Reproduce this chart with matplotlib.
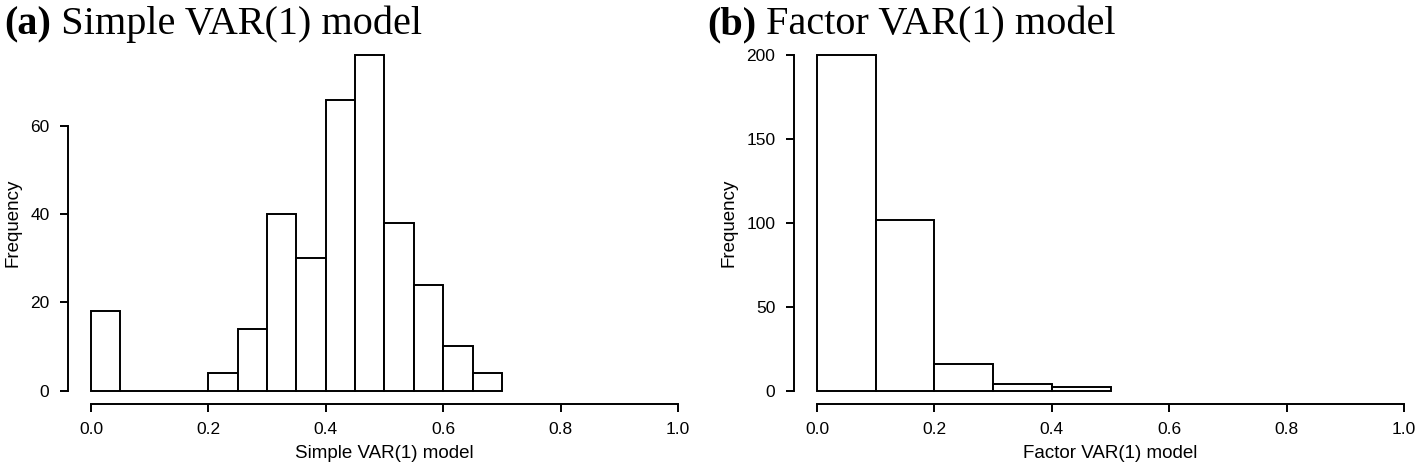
import numpy as np
import matplotlib
matplotlib.use("Agg")
import matplotlib.pyplot as plt

# panel (a): simple VAR(1), bins of width 0.05
a_edges = np.arange(0, 0.70001, 0.05)
a_counts = [18, 0, 0, 0, 4, 14, 40, 30, 66, 76, 38, 24, 10, 4]
a_yticks = [0, 20, 40, 60]

# panel (b): factor VAR(1), bins of width 0.1
b_edges = np.arange(0, 0.50001, 0.1)
b_counts = [200, 102, 16, 4, 2]
b_yticks = [0, 50, 100, 150, 200]

xticks = [0.0, 0.2, 0.4, 0.6, 0.8, 1.0]
xticklabels = ["0.0", "0.2", "0.4", "0.6", "0.8", "1.0"]

W, H = 1416, 469
fig = plt.figure(figsize=(W / 100, H / 100), dpi=100)

sans = "Liberation Sans"
serif = "Liberation Serif"


def panel(left_px, right_px, edges, counts, yticks, xlabel, tag_x, tag, title):
    bottom_px, top_px = 404, 42
    ax = fig.add_axes([left_px / W, 1 - bottom_px / H,
                       (right_px - left_px) / W, (bottom_px - top_px) / H])
    widths = np.diff(edges)
    ax.bar(edges[:-1], counts, width=widths, align="edge",
           facecolor="white", edgecolor="black", linewidth=1.4)
    top = max(counts)
    ax.set_xlim(-0.04, 1.04)
    ax.set_ylim(-0.04 * top, 1.04 * top)
    for s in ["top", "right"]:
        ax.spines[s].set_visible(False)
    ax.spines["left"].set_bounds(yticks[0], yticks[-1])
    ax.spines["bottom"].set_bounds(0, 1)
    ax.spines["left"].set_linewidth(1.4)
    ax.spines["bottom"].set_linewidth(1.4)
    ax.set_xticks(xticks)
    ax.set_xticklabels(xticklabels)
    ax.set_yticks(yticks)
    ax.tick_params(length=6, width=1.4, labelsize=12.5, pad=7)
    for lab in ax.get_xticklabels() + ax.get_yticklabels():
        lab.set_family(sans)
    ax.set_xlabel(xlabel, family=sans, fontsize=13.5, labelpad=6)
    ax.set_ylabel("Frequency", family=sans, fontsize=13.5, labelpad=6)
    t = fig.text(tag_x / W, 1 - 34 / H, tag, family=serif,
                 fontweight="bold", fontsize=29, va="baseline")
    ax.annotate(" " + title, xy=(1, 0), xycoords=t, family=serif,
                fontsize=29, va="bottom", ha="left", annotation_clip=False)
    return ax


panel(67.5, 701.5, a_edges, a_counts, a_yticks, "Simple VAR(1) model",
      4, "(a)", "Simple VAR(1) model")
panel(793.5, 1427.5, b_edges, b_counts, b_yticks, "Factor VAR(1) model",
      707, "(b)", "Factor VAR(1) model")

fig.savefig("out.png", dpi=100)
